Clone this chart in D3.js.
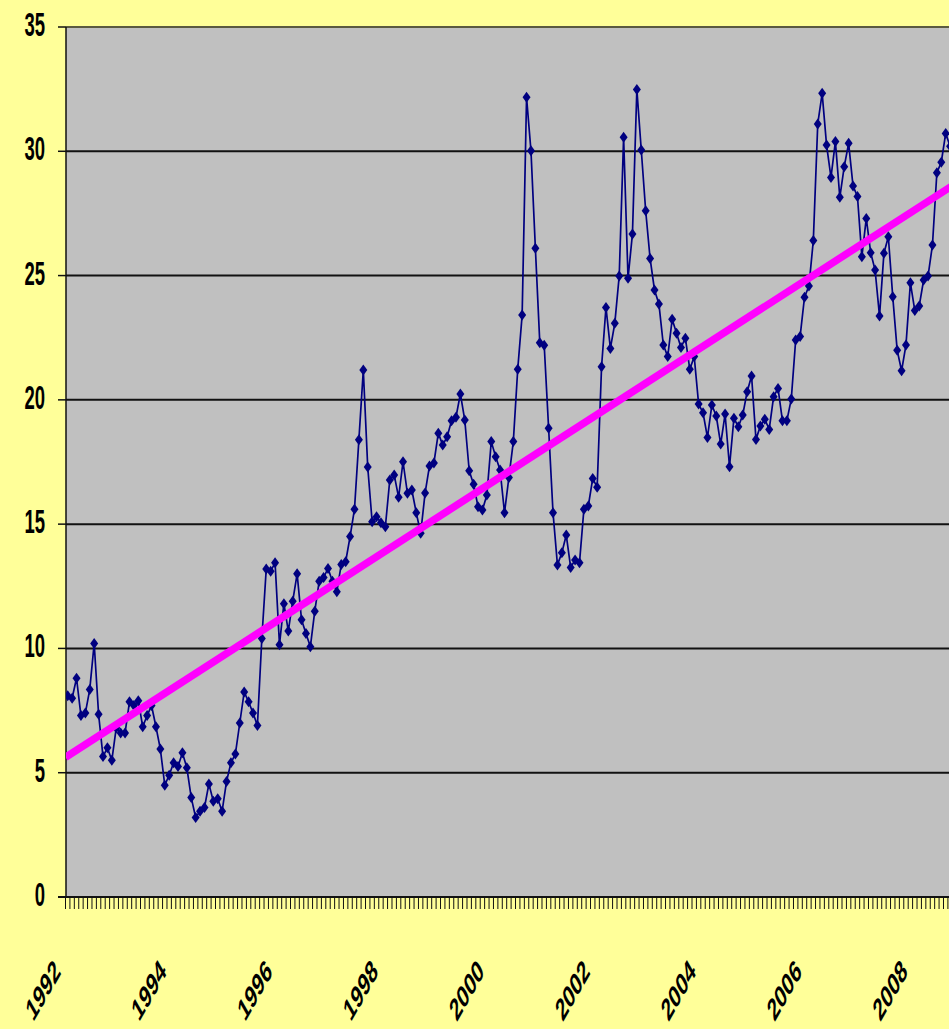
<!DOCTYPE html>
<html>
<head>
<meta charset="utf-8">
<script src="https://cdn.jsdelivr.net/npm/d3@7/dist/d3.min.js"></script>
<style>
  html, body { margin: 0; padding: 0; background: #FFFF99; }
  svg { display: block; }
  text { font-family: "Liberation Sans", Arial, sans-serif; font-weight: bold; fill: #000; }
</style>
</head>
<body>
<svg id="chart" width="949" height="1029"></svg>
<script>
// Monthly values starting January 1992
const startYear = 1992;
const monthlyValues = [
  8.1, 8.0, 8.8, 7.3, 7.4, 8.35, 10.2, 7.35, 5.65, 6.0, 5.5, 6.8,
  6.6, 6.6, 7.85, 7.7, 7.9, 6.85, 7.3, 7.7, 6.85, 5.95, 4.5, 4.9,
  5.4, 5.25, 5.8, 5.2, 4.0, 3.2, 3.45, 3.6, 4.55, 3.85, 3.95, 3.45,
  4.65, 5.4, 5.75, 7.0, 8.25, 7.85, 7.4, 6.9, 10.4, 13.2, 13.1, 13.45,
  10.15, 11.8, 10.7, 11.9, 13.0, 11.15, 10.6, 10.07, 11.5, 12.7, 12.85, 13.22,
  12.7, 12.28, 13.38, 13.49, 14.5, 15.6, 18.4, 21.2, 17.3, 15.1, 15.3, 15.06,
  14.9, 16.78, 16.98, 16.08, 17.51, 16.24, 16.37, 15.46, 14.63, 16.25, 17.34, 17.46,
  18.66, 18.18, 18.52, 19.16, 19.3, 20.24, 19.19, 17.15, 16.6, 15.7, 15.57, 16.17,
  18.32, 17.71, 17.18, 15.46, 16.88, 18.32, 21.23, 23.41, 32.17, 30.02, 26.1, 22.3,
  22.2, 18.86, 15.46, 13.36, 13.85, 14.56, 13.26, 13.56, 13.45, 15.6, 15.73, 16.84,
  16.48, 21.33, 23.72, 22.07, 23.08, 24.98, 30.56, 24.89, 26.67, 32.49, 30.05, 27.61,
  25.69, 24.42, 23.86, 22.21, 21.74, 23.24, 22.68, 22.11, 22.48, 21.23, 21.74, 19.83,
  19.48, 18.49, 19.79, 19.35, 18.22, 19.43, 17.31, 19.26, 18.92, 19.39, 20.33, 20.96,
  18.41, 18.95, 19.22, 18.81, 20.13, 20.46, 19.16, 19.16, 20.03, 22.41, 22.55, 24.13,
  24.58, 26.41, 31.1, 32.33, 30.25, 28.95, 30.39, 28.15, 29.38, 30.32, 28.6, 28.18,
  25.76, 27.3, 25.92, 25.22, 23.37, 25.9, 26.56, 24.15, 22.0, 21.17, 22.21, 24.71,
  23.59, 23.78, 24.82, 24.98, 26.23, 29.14, 29.56, 30.72, 30.2
];
const yTicks = [0, 5, 10, 15, 20, 25, 30, 35];
const yearLabels = ["1992", "1994", "1996", "1998", "2000", "2002", "2004", "2006", "2008"];

const W = 949, H = 1029;
const plot = { left: 66, top: 27, right: 949, bottom: 897 };
const pitch = 4.412;          // horizontal spacing per month
const textStretch = 1.75;     // vertical stretch applied to axis text

const svg = d3.select("#chart");

// Scales: category index -> x, value -> y
const x = d3.scaleLinear()
  .domain([-0.5, 200.5])
  .range([65.5, 65.5 + 201 * pitch]);
const y = d3.scaleLinear().domain([0, 35]).range([plot.bottom, plot.top]);

// Background and plot area
svg.append("rect").attr("width", W).attr("height", H).attr("fill", "#FFFF99");
svg.append("rect")
  .attr("x", plot.left).attr("y", plot.top)
  .attr("width", plot.right - plot.left).attr("height", plot.bottom - plot.top)
  .attr("fill", "#C0C0C0");

svg.append("defs").append("clipPath").attr("id", "plotClip")
  .append("rect")
  .attr("x", plot.left).attr("y", plot.top - 10)
  .attr("width", plot.right - plot.left).attr("height", plot.bottom - plot.top + 10);

// Horizontal gridlines
svg.append("g").selectAll("line")
  .data(yTicks.filter(v => v > 0))
  .join("line")
  .attr("x1", plot.left).attr("x2", plot.right)
  .attr("y1", d => y(d)).attr("y2", d => y(d))
  .attr("stroke", d => d === 35 ? "#5a5a40" : "#111")
  .attr("stroke-width", 2);

// Y axis: line, ticks and stretched labels
const yAxis = svg.append("g");
yAxis.append("line")
  .attr("x1", plot.left).attr("x2", plot.left)
  .attr("y1", plot.top).attr("y2", plot.bottom)
  .attr("stroke", "#111").attr("stroke-width", 1.5);
yAxis.selectAll("line.tick")
  .data(yTicks)
  .join("line").attr("class", "tick")
  .attr("x1", plot.left - 8).attr("x2", plot.left)
  .attr("y1", d => y(d)).attr("y2", d => y(d))
  .attr("stroke", "#111").attr("stroke-width", 1.5);
yAxis.selectAll("text")
  .data(yTicks)
  .join("text")
  .attr("transform", d => `translate(45,${y(d) + 9}) scale(1,${textStretch})`)
  .attr("text-anchor", "end")
  .attr("font-size", 18.5)
  .text(d => d);

// X axis: baseline, monthly tick marks and year labels
const xAxis = svg.append("g");
const boundaries = d3.range(0, 202).map(i => i - 0.5);
xAxis.selectAll("line.tick")
  .data(boundaries.filter(b => x(b) <= W))
  .join("line").attr("class", "tick")
  .attr("x1", d => x(d)).attr("x2", d => x(d))
  .attr("y1", plot.bottom).attr("y2", plot.bottom + 12)
  .attr("stroke", "#111").attr("stroke-width", 1);
xAxis.append("line")
  .attr("x1", plot.left - 8).attr("x2", plot.right)
  .attr("y1", plot.bottom).attr("y2", plot.bottom)
  .attr("stroke", "#111").attr("stroke-width", 2);
xAxis.selectAll("text")
  .data(yearLabels)
  .join("text")
  .attr("transform", d => {
    const bx = x((+d - startYear) * 12 - 0.5);
    return `translate(${bx - 4},973) scale(1,${textStretch}) rotate(-45)`;
  })
  .attr("text-anchor", "end")
  .attr("font-size", 18)
  .text(d => d);

// Data series
const series = monthlyValues.map((v, i) => ({ i, v }));
const plotArea = svg.append("g").attr("clip-path", "url(#plotClip)");

plotArea.append("path")
  .datum(series)
  .attr("fill", "none")
  .attr("stroke", "#000080")
  .attr("stroke-width", 1.7)
  .attr("d", d3.line().x(d => x(d.i)).y(d => y(d.v)));

const hw = 4, hh = 5.5;
plotArea.append("g").selectAll("path")
  .data(series)
  .join("path")
  .attr("d", d => {
    const cx = x(d.i), cy = y(d.v);
    return `M${cx},${cy - hh}L${cx + hw},${cy}L${cx},${cy + hh}L${cx - hw},${cy}Z`;
  })
  .attr("fill", "#000080");

// Linear trend (least squares over the monthly values)
const mx = d3.mean(series, d => d.i), my = d3.mean(series, d => d.v);
const slope = d3.sum(series, d => (d.i - mx) * (d.v - my)) / d3.sum(series, d => (d.i - mx) ** 2);
const intercept = my - slope * mx;
const trend = [-0.5, 200.5].map(i => ({ i, v: intercept + slope * i }));

plotArea.append("path")
  .datum(trend)
  .attr("fill", "none")
  .attr("stroke", "#FF00FF")
  .attr("stroke-width", 7.5)
  .attr("d", d3.line().x(d => x(d.i)).y(d => y(d.v)));
</script>
</body>
</html>
